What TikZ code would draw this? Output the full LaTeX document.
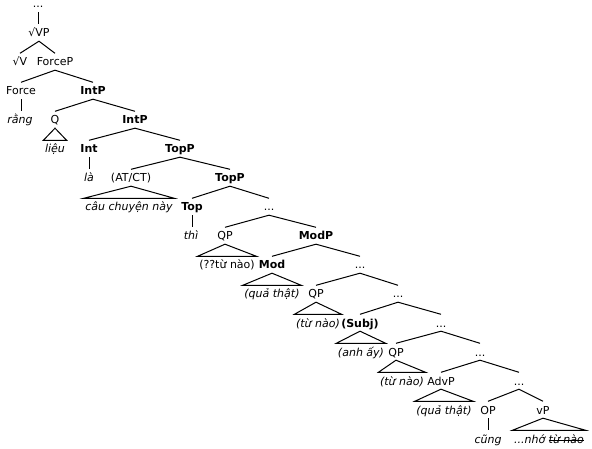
\documentclass[tikz,border=0pt]{standalone}
\usepackage{fontspec}
\setmainfont{DejaVu Sans}
\newcommand\strk[1]{\setbox0\hbox{#1}\rlap{\rule[0.45ex]{\wd0}{0.6pt}}\box0}
\begin{document}
\begin{tikzpicture}[x=1pt,y=-1pt,
  n/.style={anchor=base,inner xsep=1.5pt,inner ysep=1.5pt,text height=11pt,text depth=2.5pt,font=\fontsize{11}{13}\selectfont},
  b/.style={n,font=\fontsize{11}{13}\selectfont\bfseries},
  it/.style={n,font=\fontsize{11}{13}\selectfont\itshape},
  br/.style={line width=1pt},
  tri/.style={line width=1pt,line join=miter}]
\useasboundingbox (0,0) rectangle (592,449);
\node[n] (dots0) at (38,8) {...};
\node[n] (rootVP) at (39,37) {√VP};
\node[n] (rootV) at (20,66) {√V};
\node[n] (ForceP) at (55,66) {ForceP};
\node[n] (Force) at (21,95) {Force};
\node[b] (IntP1) at (93,95) {IntP};
\node[it] (rang) at (20,124) {rằng};
\node[n] (Q) at (55,124) {Q};
\node[b] (IntP2) at (135,124) {IntP};
\node[it] (lieu) at (55,153) {liệu};
\node[b] (Int) at (89,153) {Int};
\node[b] (TopP1) at (180,153) {TopP};
\node[it] (la) at (89,182) {là};
\node[n] (ATCT) at (131,182) {(AT/CT)};
\node[b] (TopP2) at (230,182) {TopP};
\node[it] (cau) at (129,211) {câu chuyện này};
\node[b] (Top) at (192,211) {Top};
\node[n] (dots7) at (269,211) {...};
\node[it] (thi) at (191,240) {thì};
\node[n] (QPa) at (225,240) {QP};
\node[b] (ModP) at (316,240) {ModP};
\node[n] (tunaoA) at (227,269) {(??từ nào)};
\node[b] (Mod) at (272,269) {Mod};
\node[n] (dots9) at (360,269) {...};
\node[it] (quathatA) at (272,298) {(quả thật)};
\node[n] (QPb) at (316,298) {QP};
\node[n] (dots10) at (398,298) {...};
\node[it] (tunaoB) at (318,327) {(từ nào)};
\node[b] (Subj) at (360,327) {(Subj)};
\node[n] (dots11) at (441,327) {...};
\node[it] (anhay) at (361,356) {(anh ấy)};
\node[n] (QPc) at (396,356) {QP};
\node[n] (dots12) at (480,356) {...};
\node[it] (tunaoC) at (402,385) {(từ nào)};
\node[n] (AdvP) at (441,385) {AdvP};
\node[n] (dots13) at (519,385) {...};
\node[it] (quathatB) at (444,414) {(quả thật)};
\node[n] (OP) at (488,414) {OP};
\node[n] (vP) at (543,414) {vP};
\node[it] (cung) at (488,443) {cũng};
\node[it] (nho) at (549,443) {...nhớ \strk{từ nào}};
% vertical lines
\draw[br] (dots0.south) -- (dots0.south |- rootVP.north);
\draw[br] (Force.south) -- (Force.south |- rang.north);
\draw[br] (Int.south) -- (Int.south |- la.north);
\draw[br] (Top.south) -- (Top.south |- thi.north);
\draw[br] (OP.south) -- (OP.south |- cung.north);
% branches
\foreach \p/\l/\r in {rootVP/rootV/ForceP, ForceP/Force/IntP1, IntP1/Q/IntP2, IntP2/Int/TopP1, TopP1/ATCT/TopP2, TopP2/Top/dots7, dots7/QPa/ModP, ModP/Mod/dots9, dots9/QPb/dots10, dots10/Subj/dots11, dots11/QPc/dots12, dots12/AdvP/dots13, dots13/OP/vP}
  \draw[br] (\l.north) -- (\p.south) -- (\r.north);
% triangles
\foreach \p/\c in {Q/lieu, ATCT/cau, QPa/tunaoA, Mod/quathatA, QPb/tunaoB, Subj/anhay, QPc/tunaoC, AdvP/quathatB, vP/nho}
  \draw[tri] (\p.south) -- (\c.north east) -- (\c.north west) -- cycle;
\end{tikzpicture}
\end{document}
